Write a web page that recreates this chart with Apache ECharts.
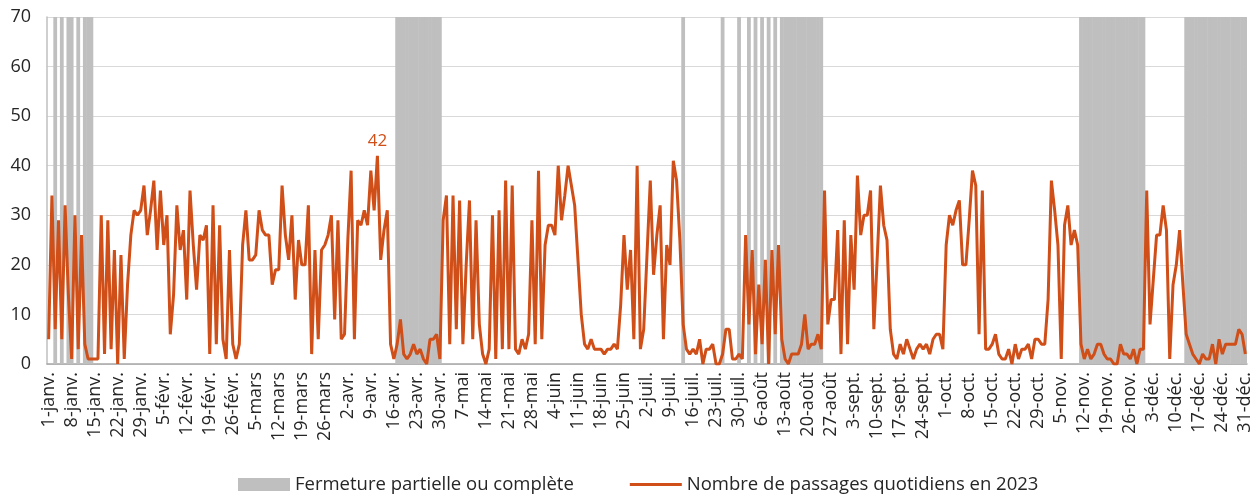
<!DOCTYPE html>
<html>
<head>
<meta charset="utf-8">
<script src="https://cdn.jsdelivr.net/npm/echarts@6/dist/echarts.min.js"></script>
<style>
  html, body { margin: 0; padding: 0; background: #fff; }
  #chart { width: 1259px; height: 494px; }
</style>
</head>
<body>
<div id="chart"></div>
<script>
// Passages quotidiens 2023 + jours de fermeture (barres grises)
const MONTHS = ['janv.', 'févr.', 'mars', 'avr.', 'mai', 'juin', 'juil.', 'août', 'sept.', 'oct.', 'nov.', 'déc.'];
const MONTH_DAYS = [31, 28, 31, 30, 31, 30, 31, 31, 30, 31, 30, 31];

// one value per day, 1 janv. -> 31 déc.
const passages = [
  5, 34, 7, 29, 5, 32, 14, 1, 30, 3,
  26, 4, 1, 1, 1, 1, 30, 2, 29, 3,
  23, 0, 22, 1, 16, 26, 31, 30, 31, 36,
  26, 31, 37, 23, 35, 24, 30, 6, 14, 32,
  23, 27, 13, 35, 24, 15, 26, 25, 28, 2,
  32, 4, 28, 5, 1, 23, 4, 1, 4, 24,
  31, 21, 21, 22, 31, 27, 26, 26, 16, 19,
  19, 36, 26, 21, 30, 13, 25, 20, 20, 32,
  2, 23, 5, 23, 24, 26, 30, 9, 29, 5,
  6, 25, 39, 5, 29, 28, 31, 28, 39, 31,
  42, 21, 27, 31, 4, 1, 4, 9, 2, 1,
  2, 4, 2, 3, 1, 0, 5, 5, 6, 1,
  29, 34, 4, 34, 7, 33, 4, 20, 33, 5,
  29, 8, 2, 0, 3, 30, 1, 31, 3, 37,
  3, 36, 3, 2, 5, 3, 6, 29, 4, 39,
  5, 24, 28, 28, 26, 40, 29, 34, 40, 36,
  32, 21, 10, 4, 3, 5, 3, 3, 3, 2,
  3, 3, 4, 3, 12, 26, 15, 23, 5, 40,
  3, 7, 22, 37, 18, 26, 32, 5, 24, 20,
  41, 37, 25, 8, 3, 2, 3, 2, 5, 0,
  3, 3, 4, 0, 0, 2, 7, 7, 1, 1,
  2, 1, 26, 8, 23, 2, 16, 4, 21, 0,
  23, 6, 24, 5, 1, 0, 2, 2, 2, 4,
  10, 3, 4, 4, 6, 3, 35, 8, 13, 13,
  27, 2, 29, 4, 26, 15, 38, 26, 30, 30,
  35, 7, 21, 36, 28, 25, 7, 2, 1, 4,
  2, 5, 3, 1, 3, 4, 3, 4, 2, 5,
  6, 6, 3, 24, 30, 28, 31, 33, 20, 20,
  29, 39, 36, 6, 35, 3, 3, 4, 6, 2,
  1, 1, 3, 0, 4, 1, 3, 3, 4, 1,
  5, 5, 4, 4, 13, 37, 31, 24, 1, 28,
  32, 24, 27, 24, 4, 1, 3, 1, 2, 4,
  4, 2, 1, 1, 0, 0, 4, 2, 2, 1,
  3, 0, 3, 3, 35, 8, 17, 26, 26, 32,
  27, 1, 16, 20, 27, 16, 6, 4, 2, 1,
  0, 2, 1, 1, 4, 0, 5, 2, 4, 4,
  4, 4, 7, 6, 2
];

// closure periods as [first day index, last day index]
const closures = [
  [2, 2], [4, 4], [6, 7], [9, 9], [11, 13],
  [106, 119],
  [193, 193], [205, 205], [210, 210], [213, 213], [215, 215],
  [217, 217], [219, 219], [221, 221], [223, 235],
  [314, 333], [346, 364]
];

const Y_MAX = 70;
const LINE_COLOR = '#D04E17';
const GREY = '#BFBFBF';
const FONT = "'Open Sans', 'Noto Sans', sans-serif";

// day labels "1-janv." ...
const days = [];
MONTHS.forEach((m, i) => {
  for (let d = 1; d <= MONTH_DAYS[i]; d++) days.push(d + '-' + m);
});

const closed = days.map(() => null);
for (const [a, b] of closures) for (let i = a; i <= b; i++) closed[i] = Y_MAX;

let maxIdx = 0;
passages.forEach((v, i) => { if (v > passages[maxIdx]) maxIdx = i; });

const chart = echarts.init(document.getElementById('chart'));
chart.setOption({
  animation: false,
  textStyle: { fontFamily: FONT },
  grid: { left: 47, right: 12, top: 17, bottom: 130 },
  legend: {
    left: 233, top: 470,
    itemWidth: 52, itemHeight: 13, itemGap: 56,
    textStyle: { fontSize: 18.5, color: '#262626', fontFamily: FONT },
    data: [
      { name: 'Fermeture partielle ou complète', icon: 'rect' },
      {
        name: 'Nombre de passages quotidiens en 2023',
        icon: 'path://M0,0H52V3H0Z',
        itemStyle: { color: LINE_COLOR }
      }
    ]
  },
  xAxis: {
    type: 'category',
    data: days,
    boundaryGap: true,
    axisLine: { lineStyle: { color: '#A6A6A6', width: 1.5 } },
    axisTick: { show: false },
    axisLabel: {
      interval: 6, rotate: 90, fontSize: 18, color: '#262626', margin: 8,
      fontFamily: FONT
    }
  },
  yAxis: {
    type: 'value', min: 0, max: Y_MAX, interval: 10,
    axisLine: { show: true, lineStyle: { color: GREY, width: 1.5 } },
    axisTick: { show: false },
    axisLabel: { fontSize: 18, color: '#262626', margin: 16, fontFamily: FONT },
    splitLine: { lineStyle: { color: '#D9D9D9', width: 1 } }
  },
  series: [
    {
      name: 'Fermeture partielle ou complète',
      type: 'bar',
      data: closed,
      barWidth: '115%',
      itemStyle: { color: GREY },
      z: 1
    },
    {
      name: 'Nombre de passages quotidiens en 2023',
      type: 'line',
      data: passages,
      symbol: 'none',
      lineStyle: { color: LINE_COLOR, width: 3 },
      itemStyle: { color: LINE_COLOR },
      z: 3,
      markPoint: {
        symbol: 'circle', symbolSize: 0,
        label: {
          show: true, position: 'top', distance: 6,
          color: LINE_COLOR, fontSize: 17, fontFamily: FONT,
          formatter: '{c}'
        },
        data: [{ coord: [maxIdx, passages[maxIdx]], value: passages[maxIdx] }]
      }
    }
  ]
});
</script>
</body>
</html>
